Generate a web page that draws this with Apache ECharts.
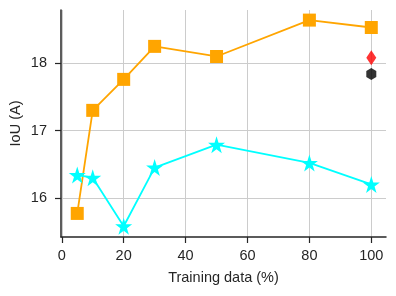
<!DOCTYPE html>
<html>
<head>
<meta charset="utf-8">
<script src="https://cdn.jsdelivr.net/npm/echarts@6/dist/echarts.min.js"></script>
<style>html,body{margin:0;padding:0;background:#fff;}#c{width:396px;height:296px;}</style>
</head>
<body>
<div id="c"></div>
<script>
const xValues = [5, 10, 20, 30, 50, 80, 100];
const orangeValues = [15.77, 17.30, 17.76, 18.25, 18.10, 18.64, 18.53];
const cyanValues = [16.34, 16.30, 15.58, 16.45, 16.79, 16.52, 16.20];
const redPoint = [[100, 18.08]];
const blackPoint = [[100, 17.84]];
const xTicks = [0, 20, 40, 60, 80, 100];
const yTicks = [16, 17, 18];

const starPath = 'path://M50,0 L61.2,34.5 L97.6,34.5 L68.2,55.9 L79.4,90.5 L50,69.1 L20.6,90.5 L31.8,55.9 L2.4,34.5 L38.8,34.5 Z';
const hexPath = 'path://M0,-1 L0.866,-0.5 L0.866,0.5 L0,1 L-0.866,0.5 L-0.866,-0.5 Z';

const axisColor = '#262626';
const font = 'Liberation Sans, Arial, sans-serif';
const fs = 14.5;

const chart = echarts.init(document.getElementById('c'), null, {renderer: 'canvas'});
chart.setOption({
  animation: false,
  backgroundColor: '#fff',
  grid: {left: 61, right: 10, top: 10, bottom: 59, containLabel: false, outerBoundsMode: 'none'},
  xAxis: {
    type: 'value', min: -0.25, max: 104.75,
    name: 'Training data (%)', nameLocation: 'middle', nameGap: 33, nameMoveOverlap: false,
    nameTextStyle: {color: axisColor, fontSize: fs, fontFamily: font},
    axisLine: {show: true, onZero: false, lineStyle: {color: axisColor, width: 1.5}},
    axisTick: {show: true, length: 6, lineStyle: {color: axisColor, width: 1.2}, customValues: xTicks},
    axisLabel: {color: axisColor, fontSize: fs, fontFamily: font, margin: 11, customValues: xTicks},
    splitLine: {show: true, lineStyle: {color: '#cccccc', width: 1}}
  },
  yAxis: {
    type: 'value', min: 15.42, max: 18.79,
    name: 'IoU (A)', nameLocation: 'middle', nameGap: 38, nameRotate: 90, nameMoveOverlap: false,
    nameTextStyle: {color: axisColor, fontSize: fs, fontFamily: font},
    axisLine: {show: true, onZero: false, lineStyle: {color: axisColor, width: 1.5}},
    axisTick: {show: true, length: 6, lineStyle: {color: axisColor, width: 1.2}, customValues: yTicks},
    axisLabel: {color: axisColor, fontSize: fs, fontFamily: font, margin: 14, customValues: yTicks},
    splitLine: {show: true, lineStyle: {color: '#cccccc', width: 1}}
  },
  series: [
    {
      type: 'line', data: xValues.map((x, i) => [x, orangeValues[i]]),
      symbol: 'rect', symbolSize: 13,
      lineStyle: {color: '#FFA500', width: 1.8},
      itemStyle: {color: '#FFA500'}, z: 3
    },
    {
      type: 'line', data: xValues.map((x, i) => [x, cyanValues[i]]),
      symbol: starPath, symbolSize: 17,
      lineStyle: {color: '#00FFFF', width: 1.8},
      itemStyle: {color: '#00FFFF'}, z: 3
    },
    {
      type: 'scatter', data: redPoint, symbol: 'diamond', symbolSize: [10, 15],
      itemStyle: {color: '#FF0000'}, z: 4
    },
    {
      type: 'scatter', data: blackPoint, symbol: hexPath, symbolSize: [10, 12],
      itemStyle: {color: '#000000'}, z: 4
    }
  ]
});
</script>
</body>
</html>
